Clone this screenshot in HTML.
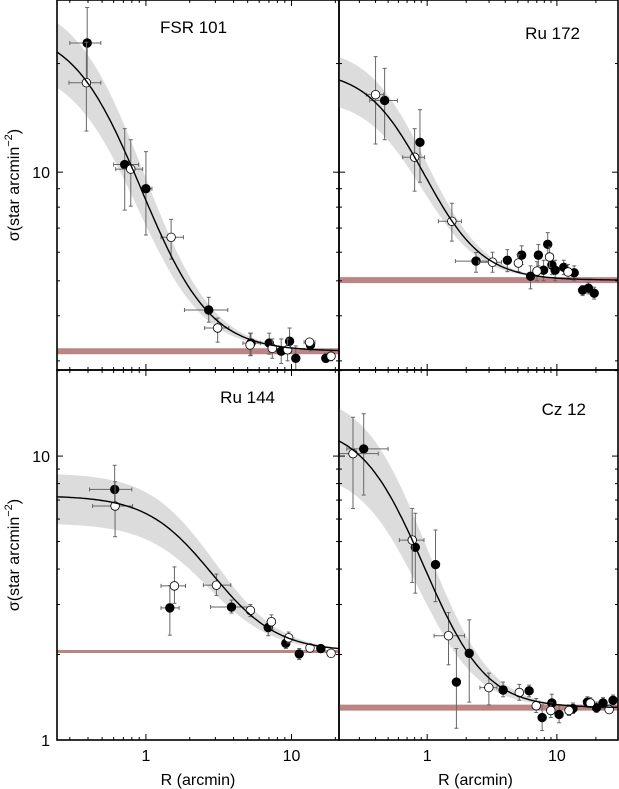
<!DOCTYPE html>
<html><head><meta charset="utf-8">
<style>
html,body{margin:0;padding:0;background:#fff;}
svg{display:block;font-family:"Liberation Sans",Arial,sans-serif;}
</style></head>
<body>
<svg id="chart" width="619" height="789" viewBox="0 0 619 789" xmlns="http://www.w3.org/2000/svg"></svg>
<script>
// ---------- data (R in arcmin, sigma in stars/arcmin^2) ----------
const panelNames = ["FSR 101","Ru 172","Ru 144","Cz 12"];
const kingSigma0 = [21.9, 14.2, 5.21, 11.54];
const kingRc = [0.556, 0.683, 2.07, 0.533];
const kingBg = [3.19, 5.02, 2.05, 1.30];
const bandFrac = [0.24, 0.22, 0.28, 0.34];
const xTickLabels = ["1","10"];
const xTickValues = [1,10];
const yTickLabelsTop = ["10"];
const yTickValuesTop = [10];
const yTickLabelsBottom = ["1","10"];
const yTickValuesBottom = [1,10];

// FSR 101
const p0FilledR = [0.395,0.715,1.0,2.7,5.27,7.03,8.5,9.7,10.7,13.5,17.2];
const p0FilledS = [22.8,10.5,9.0,4.15,3.36,3.36,3.19,3.4,3.05,3.32,3.05];
const p0FilledRlo = [0.30,0.60,0.94,1.84,4.64,6.7,null,null,null,null,null];
const p0FilledRhi = [0.49,0.89,1.1,3.65,6.1,7.4,null,null,null,null,null];
const p0FilledSlo = [18,7.85,6.7,3.84,3.11,3.13,2.95,3.15,2.8,3.2,2.97];
const p0FilledShi = [28.6,13.2,11.4,4.5,3.58,3.58,3.45,3.7,3.3,3.45,3.15];
const p0OpenR = [0.39,0.787,1.49,3.11,5.19,7.38,9.4,13.3,18.7];
const p0OpenS = [17.7,10.2,6.6,3.7,3.32,3.25,3.22,3.38,3.09];
const p0OpenRlo = [0.296,0.62,1.27,2.53,null,null,null,12.2,null];
const p0OpenRhi = [0.49,0.95,1.81,3.71,null,null,null,14.5,null];
const p0OpenSlo = [13.0,8.05,5.74,3.38,3.1,3.05,3.0,3.3,3.0];
const p0OpenShi = [22.9,12.3,7.4,3.94,3.58,3.45,3.45,3.46,3.18];

// Ru 172
const p1FilledR = [0.47,0.88,2.38,4.15,5.35,6.27,7.2,7.9,8.5,9.15,9.7,11.3,13.6,15.8,17.5,19.4];
const p1FilledS = [15.8,12.1,5.67,5.7,5.89,5.15,5.89,5.35,6.31,5.53,5.35,5.45,5.26,4.71,4.77,4.62];
const p1FilledRlo = [0.36,0.84,1.65,null,null,null,null,null,null,null,null,null,null,null,null,null];
const p1FilledRhi = [0.59,0.92,3.13,null,null,null,null,null,null,null,null,null,null,null,null,null];
const p1FilledSlo = [12.3,9.38,5.28,5.3,5.55,4.75,5.5,5.0,5.85,5.2,5.0,5.2,5.0,4.55,4.6,4.45];
const p1FilledShi = [19.4,14.9,5.99,6.1,6.25,5.5,6.3,5.7,6.8,5.9,5.7,5.7,5.5,4.85,4.95,4.8];
const p1OpenR = [0.40,0.80,1.55,3.19,5.05,7.03,8.78,12.2];
const p1OpenS = [16.4,11.0,7.31,5.63,5.6,5.32,5.82,5.29];
const p1OpenRlo = [0.34,0.647,1.22,2.49,null,null,null,null];
const p1OpenRhi = [0.46,0.955,1.84,3.74,null,null,null,null];
const p1OpenSlo = [11.97,8.86,6.44,5.28,5.3,5.0,5.45,5.05];
const p1OpenShi = [20.9,13.2,8.2,6.0,5.9,5.65,6.2,5.55];

// Ru 144
const p2FilledR = [0.61,1.46,3.87,6.92,9.14,11.3,15.9];
const p2FilledS = [7.63,2.92,2.94,2.49,2.19,2.01,2.1];
const p2FilledRlo = [0.41,1.27,2.78,null,null,null,null];
const p2FilledRhi = [0.80,1.69,5.27,null,null,null,null];
const p2FilledSlo = [6.8,2.34,2.8,2.33,2.1,1.92,2.05];
const p2FilledShi = [9.28,3.5,3.11,2.61,2.3,2.1,2.16];
const p2OpenR = [0.614,1.57,3.05,5.22,7.28,9.56,13.4,18.7];
const p2OpenS = [6.67,3.49,3.51,2.86,2.61,2.29,2.11,2.02];
const p2OpenRlo = [0.43,1.27,2.48,null,null,null,null,null];
const p2OpenRhi = [0.81,1.87,3.83,null,null,null,null,null];
const p2OpenSlo = [5.2,3.03,3.23,2.72,2.45,2.2,2.06,1.98];
const p2OpenShi = [8.12,4.07,3.84,3.0,2.76,2.4,2.16,2.06];

// Cz 12
const p3FilledR = [0.324,0.81,1.16,1.68,2.11,3.85,6.11,7.7,9.15,10.4,13.3,17.2,20.2,22.7,27.1];
const p3FilledS = [10.6,4.77,4.15,1.6,2.02,1.5,1.49,1.2,1.35,1.23,1.29,1.36,1.30,1.35,1.38];
const p3FilledRlo = [0.24,null,null,null,null,null,null,null,null,null,null,null,null,null,null];
const p3FilledRhi = [0.50,null,null,null,null,null,null,null,null,null,null,null,null,null,null];
const p3FilledSlo = [7.29,3.29,3.07,1.1,1.36,1.42,1.42,1.08,1.25,1.15,1.24,1.3,1.25,1.29,1.33];
const p3FilledShi = [14.1,6.29,5.49,2.1,2.65,1.6,1.56,1.33,1.45,1.33,1.35,1.42,1.36,1.41,1.44];
const p3OpenR = [0.268,0.767,1.46,2.99,5.13,6.93,8.98,12.4,18.1,25.3];
const p3OpenS = [10.2,5.06,2.33,1.53,1.47,1.32,1.27,1.27,1.35,1.28];
const p3OpenRlo = [0.21,0.61,1.13,2.55,null,null,null,null,null,null];
const p3OpenRhi = [0.42,0.945,1.94,3.45,null,null,null,null,null,null];
const p3OpenSlo = [6.54,3.59,1.84,1.33,1.38,1.25,1.2,1.22,1.3,1.24];
const p3OpenShi = [13.7,6.54,2.81,1.72,1.57,1.4,1.35,1.33,1.41,1.33];

// ---------- layout ----------
const NS = "http://www.w3.org/2000/svg";
const svg = document.getElementById('chart');
const panels = [
  {x0:57,x1:339,y0:0,y1:370, xmin:0.245,xmax:21.2, ymin:2.83,ymax:30, lab:[160,33], anchor:"start"},
  {x0:339,x1:618,y0:0,y1:370, xmin:0.209,xmax:29.6, ymin:2.83,ymax:30, lab:[580,39], anchor:"end"},
  {x0:57,x1:339,y0:370,y1:740, xmin:0.245,xmax:21.2, ymin:1,ymax:20.1, lab:[275,403], anchor:"end"},
  {x0:339,x1:618,y0:370,y1:740, xmin:0.209,xmax:29.6, ymin:1,ymax:20.1, lab:[586,415], anchor:"end"}
];
const filledR=[p0FilledR,p1FilledR,p2FilledR,p3FilledR], filledS=[p0FilledS,p1FilledS,p2FilledS,p3FilledS];
const filledRlo=[p0FilledRlo,p1FilledRlo,p2FilledRlo,p3FilledRlo], filledRhi=[p0FilledRhi,p1FilledRhi,p2FilledRhi,p3FilledRhi];
const filledSlo=[p0FilledSlo,p1FilledSlo,p2FilledSlo,p3FilledSlo], filledShi=[p0FilledShi,p1FilledShi,p2FilledShi,p3FilledShi];
const openR=[p0OpenR,p1OpenR,p2OpenR,p3OpenR], openS=[p0OpenS,p1OpenS,p2OpenS,p3OpenS];
const openRlo=[p0OpenRlo,p1OpenRlo,p2OpenRlo,p3OpenRlo], openRhi=[p0OpenRhi,p1OpenRhi,p2OpenRhi,p3OpenRhi];
const openSlo=[p0OpenSlo,p1OpenSlo,p2OpenSlo,p3OpenSlo], openShi=[p0OpenShi,p1OpenShi,p2OpenShi,p3OpenShi];

function mk(tag, attrs, parent){
  const e=document.createElementNS(NS,tag);
  for(const k in attrs) e.setAttribute(k,attrs[k]);
  (parent||svg).appendChild(e); return e;
}
function king(i,R,s0){return kingBg[i]+s0/(1+(R/kingRc[i])**2);}

panels.forEach((p,i)=>{
  const xs=v=>p.x0+(Math.log10(v)-Math.log10(p.xmin))/(Math.log10(p.xmax)-Math.log10(p.xmin))*(p.x1-p.x0);
  const ys=v=>p.y1-(Math.log10(v)-Math.log10(p.ymin))/(Math.log10(p.ymax)-Math.log10(p.ymin))*(p.y1-p.y0);
  const g=mk('g',{});
  
  
  const cid='clip'+i;
  const cp=mk('clipPath',{id:cid},g); mk('rect',{x:p.x0,y:p.y0,width:p.x1-p.x0,height:p.y1-p.y0},cp);
  const inner=mk('g',{'clip-path':'url(#'+cid+')'},g);
  // uncertainty band
  const N=120; let up=[],lo=[];
  for(let k=0;k<=N;k++){const R=p.xmin*Math.pow(p.xmax/p.xmin,k/N);
    up.push(xs(R).toFixed(1)+','+ys(king(i,R,kingSigma0[i]*(1+bandFrac[i]))).toFixed(1));
    lo.push(xs(R).toFixed(1)+','+ys(king(i,R,kingSigma0[i]*(1-bandFrac[i]))).toFixed(1));}
  const band=mk('polygon',{points:up.concat(lo.reverse()).join(' '),fill:'#dcdcdc'},inner);
  
  
  // background level
  const bgw = (i==2)?3:6;
  const bgl=mk('line',{x1:p.x0,x2:p.x1,y1:ys(kingBg[i]),y2:ys(kingBg[i]),stroke:'#bb8585','stroke-width':bgw},inner);
  
  
  // error bars + points
  function drawSet(R,S,Rlo,Rhi,Slo,Shi,filled){
    R.forEach((r,k)=>{
      const cx=xs(r), cy=ys(S[k]);
      const eb=mk('g',{stroke:'#666','stroke-width':1},inner);
      
      
      const rl=Rlo[k]||r*0.95, rh=Rhi[k]||r*1.05;
      const x1=xs(rl), x2=xs(rh);
      mk('line',{x1:x1,x2:x2,y1:cy,y2:cy},eb);
      mk('line',{x1:x1,x2:x1,y1:cy-2,y2:cy+2},eb);
      mk('line',{x1:x2,x2:x2,y1:cy-2,y2:cy+2},eb);
      const y1=ys(Shi[k]), y2=ys(Slo[k]);
      mk('line',{x1:cx,x2:cx,y1:y1,y2:y2},eb);
      mk('line',{x1:cx-2,x2:cx+2,y1:y1,y2:y1},eb);
      mk('line',{x1:cx-2,x2:cx+2,y1:y2,y2:y2},eb);
    });
    R.forEach((r,k)=>{
      const c=mk('circle',{cx:xs(r),cy:ys(S[k]),r:4.3,fill:filled?'#000':'#fff',stroke:'#000','stroke-width':0.8},inner);
      
      
    });
  }
  drawSet(filledR[i],filledS[i],filledRlo[i],filledRhi[i],filledSlo[i],filledShi[i],true);
  drawSet(openR[i],openS[i],openRlo[i],openRhi[i],openSlo[i],openShi[i],false);
  // fit curve
  let pts=[];
  for(let k=0;k<=N;k++){const R=p.xmin*Math.pow(p.xmax/p.xmin,k/N); pts.push(xs(R).toFixed(1)+','+ys(king(i,R,kingSigma0[i])).toFixed(1));}
  const fit=mk('polyline',{points:pts.join(' '),fill:'none',stroke:'#000','stroke-width':1.4},inner);
  
  
  // ticks
  const tg=mk('g',{stroke:'#000','stroke-width':1},g);
  
  
  for(let d=-1;d<=2;d++) for(let m=1;m<=9;m++){const v=m*Math.pow(10,d);
    if(v<p.xmin||v>p.xmax) continue; const x=xs(v), L=m==1?6:3;
    mk('line',{x1:x,x2:x,y1:p.y1,y2:p.y1-L},tg); mk('line',{x1:x,x2:x,y1:p.y0,y2:p.y0+L},tg);}
  for(let d=-1;d<=2;d++) for(let m=1;m<=9;m++){const v=m*Math.pow(10,d);
    if(v<p.ymin||v>p.ymax) continue; const y=ys(v), L=m==1?6:3;
    mk('line',{x1:p.x0,x2:p.x0+L,y1:y,y2:y},tg); mk('line',{x1:p.x1,x2:p.x1-L,y1:y,y2:y},tg);}
  // frame
  const fr=mk('rect',{x:p.x0,y:p.y0,width:p.x1-p.x0,height:p.y1-p.y0,fill:'none',stroke:'#000','stroke-width':1.6},g);
  
  
  const t=mk('text',{x:p.lab[0],y:p.lab[1],'font-size':17,'text-anchor':p.anchor},g);
  t.textContent=panelNames[i];
  
  
  // tick labels
  if(i>=2){
    xTickValues.forEach((v,k)=>{const tl=mk('text',{x:xs(v),y:761,'font-size':16,'text-anchor':'middle'});
      tl.textContent=xTickLabels[k];
      
      });
    const xt=mk('text',{x:(p.x0+p.x1)/2+ (i==2?0:-3),y:785,'font-size':16,'text-anchor':'middle'});
    xt.textContent='R (arcmin)';
    
    
  }
  if(i==0||i==2){
    const vals=i==0?yTickValuesTop:yTickValuesBottom, labs=i==0?yTickLabelsTop:yTickLabelsBottom;
    vals.forEach((v,k)=>{const tl=mk('text',{x:50,y:ys(v)+6,'font-size':16,'text-anchor':'end'});
      tl.textContent=labs[k];
      
      });
    const cy=i==0?185:555;
    const yt=mk('text',{x:0,y:0,'font-size':16,'text-anchor':'middle',transform:'translate(19,'+cy+') rotate(-90)'});
    
    
    yt.innerHTML='σ(star arcmin<tspan dy="-7" font-size="11">−2</tspan><tspan dy="7">)</tspan>';
  }
});
</script>
</body></html>
